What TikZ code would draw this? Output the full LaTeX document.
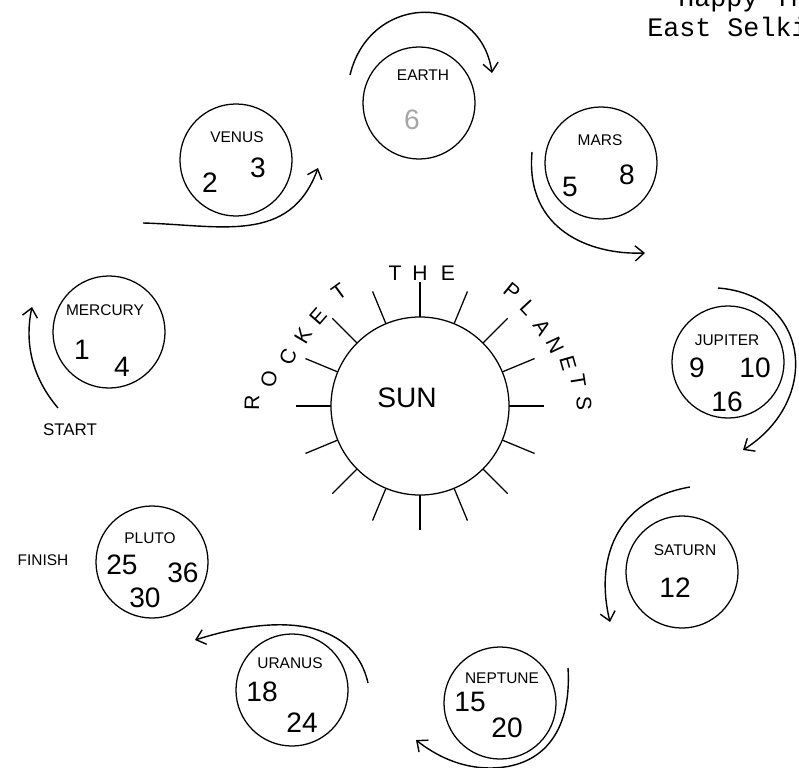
\documentclass[tikz,border=0pt]{standalone}
\usepackage{fontspec}
\setmainfont{Liberation Sans}
\newfontfamily\typewriter{Liberation Mono}
\usetikzlibrary{arrows.meta}

\tikzset{
  planet/.style={draw, circle, line width=0.9pt, minimum size=2.8cm, inner sep=0pt},
  pname/.style={font=\fontsize{11}{13}\selectfont, inner sep=1pt},
  pnum/.style={font=\fontsize{20}{24}\selectfont, inner sep=1pt},
  orbit/.style={line width=1pt, -{Straight Barb[length=2.2mm,width=3.8mm]}},
  ray/.style={line width=0.9pt},
  rim/.style={font=\fontsize{15}{18}\selectfont, inner sep=0pt},
  heading/.style={anchor=base west, inner sep=0pt, font=\typewriter\fontsize{19}{22}\selectfont},
}

\begin{document}
\begin{tikzpicture}[x=0.025cm, y=-0.025cm]
  \useasboundingbox (0,0) rectangle (799,767);

  % heading, cut off by the page edge
  \node[heading] (head1) at (678,7) {Happy Th};
  \node[heading] (head2) at (647,37) {East Selki};

  % the sun and its rays
  \node[planet, minimum size=4.45cm] (sun) at (420,406) {};
  \node[font=\fontsize{20}{24}\selectfont] (sunname) at (407,398) {SUN};
  \foreach \a in {0,22.5,...,337.5}
    \draw[ray] (sun.center) ++(\a:89) -- ++(\a:35);

  % title round the sun
  \foreach \ch/\x/\y/\r [count=\i] in {R/252/403/89, O/269/379/79, C/288/357/69,
      K/303/336/59, E/318/316/49, T/339/292/36, T/395/273/0, H/420/273/0,
      E/448/273/0, P/512/291/-39, L/528/308/-47, A/542/327/-57, N/555/345/-65,
      E/568/363/-74, T/578/381/-81, S/584/403/-89}
    \node[rim, rotate=\r] (rim\i) at (\x,\y) {\ch};

  % planets
  \node[planet] (mercury) at (109,332) {};
  \node[pname] (mercury-name) at (105,310) {MERCURY};
  \node[pnum] (mercury-1) at (82,350) {1};
  \node[pnum] (mercury-4) at (122,367) {4};

  \node[planet] (venus) at (236,160) {};
  \node[pname] (venus-name) at (237,137) {VENUS};
  \node[pnum] (venus-2) at (210,183) {2};
  \node[pnum] (venus-3) at (258,168) {3};

  \node[planet] (earth) at (419,103) {};
  \node[pname] (earth-name) at (423,75) {EARTH};
  \node[pnum, text=gray!70] (earth-6) at (412,120) {6};

  \node[planet] (mars) at (601,163) {};
  \node[pname] (mars-name) at (600,140) {MARS};
  \node[pnum] (mars-5) at (570,187) {5};
  \node[pnum] (mars-8) at (627,175) {8};

  \node[planet] (jupiter) at (728,362) {};
  \node[pname] (jupiter-name) at (727,340) {JUPITER};
  \node[pnum] (jupiter-9) at (697,368) {9};
  \node[pnum] (jupiter-10) at (755,368) {10};
  \node[pnum] (jupiter-16) at (727,402) {16};

  \node[planet] (saturn) at (682,572) {};
  \node[pname] (saturn-name) at (685,550) {SATURN};
  \node[pnum] (saturn-12) at (675,588) {12};

  \node[planet] (neptune) at (500,703) {};
  \node[pname] (neptune-name) at (502,678) {NEPTUNE};
  \node[pnum] (neptune-15) at (470,702) {15};
  \node[pnum] (neptune-20) at (507,728) {20};

  \node[planet] (uranus) at (292,690) {};
  \node[pname] (uranus-name) at (290,663) {URANUS};
  \node[pnum] (uranus-18) at (262,692) {18};
  \node[pnum] (uranus-24) at (302,723) {24};

  \node[planet] (pluto) at (152,562) {};
  \node[pname] (pluto-name) at (150,538) {PLUTO};
  \node[pnum] (pluto-25) at (122,565) {25};
  \node[pnum] (pluto-36) at (183,573) {36};
  \node[pnum] (pluto-30) at (145,598) {30};

  \node[font=\fontsize{12}{14}\selectfont] (start) at (70,430) {START};
  \node[font=\fontsize{11}{13}\selectfont] (finish) at (43,560) {FINISH};

  % the way round
  \draw[orbit] (58,408) .. controls (30,375) and (25,340) .. (32,307);
  \draw[orbit] (143,223) .. controls (220,225) and (290,245) .. (318,168);
  \draw[orbit] (350,75) .. controls (370,-8) and (480,-8) .. (492,73);
  \draw[orbit] (532,152) .. controls (525,230) and (590,255) .. (645,253);
  \draw[orbit] (718,288) .. controls (810,295) and (822,400) .. (743,450);
  \draw[orbit] (690,487) .. controls (615,500) and (595,560) .. (610,622);
  \draw[orbit] (568,668) .. controls (572,735) and (540,768) .. (490,768)
                         .. controls (460,768) and (435,755) .. (416,740);
  \draw[orbit] (368,683) .. controls (355,625) and (290,610) .. (195,640);
\end{tikzpicture}
\end{document}
